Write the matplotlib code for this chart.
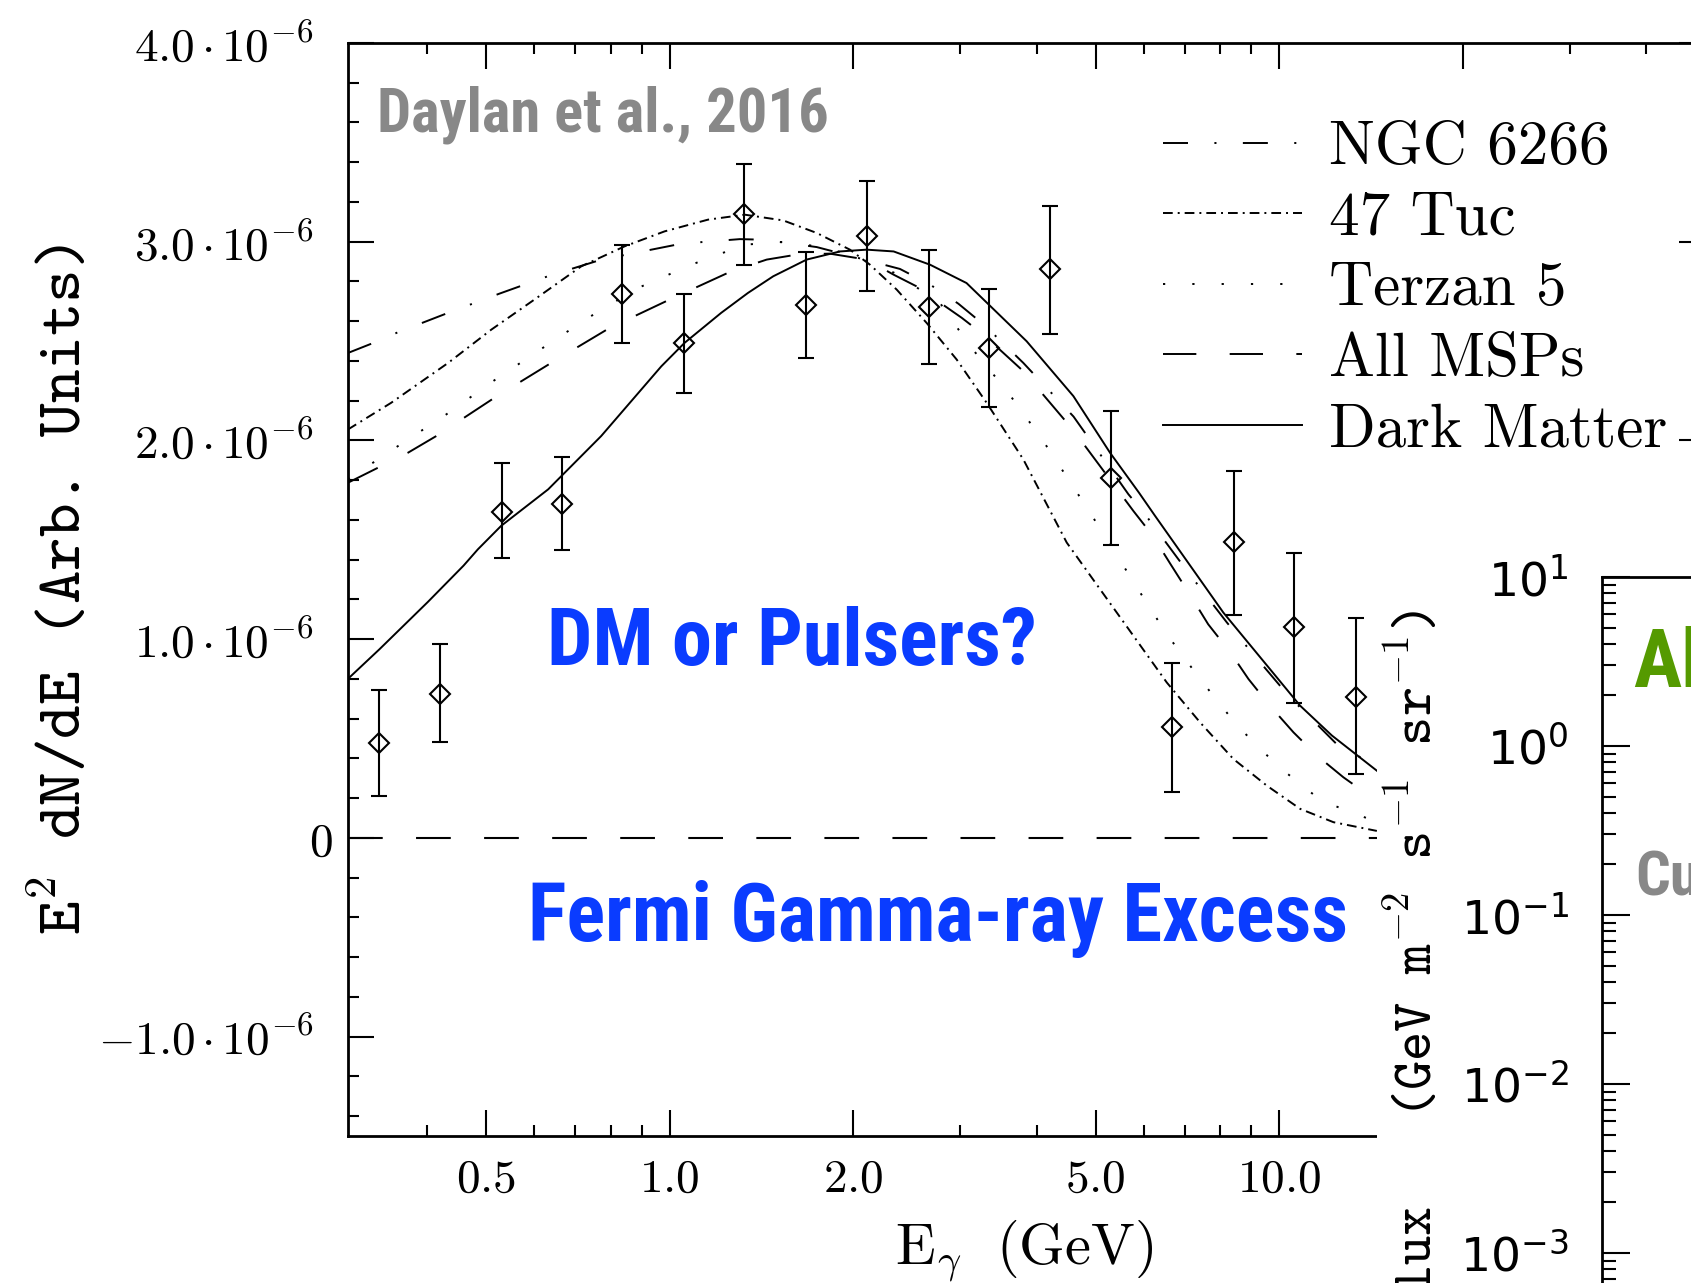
import numpy as np
import matplotlib
matplotlib.use("Agg")
import matplotlib.pyplot as plt
from matplotlib import font_manager
from matplotlib.patches import Rectangle
from matplotlib.ticker import FixedLocator
from matplotlib.transforms import ScaledTranslation

plt.rcParams['mathtext.fontset'] = 'cm'
plt.rcParams['lines.scale_dashes'] = False

# ----- Fermi GC excess data points (E^2 dN/dE, units of 1e-6) -----
e_data = [0.334, 0.420, 0.530, 0.665, 0.836, 1.054, 1.325, 1.671, 2.109,
          2.66, 3.34, 4.21, 5.30, 6.68, 8.43, 10.59, 13.35]
f_data = [0.477, 0.726, 1.642, 1.680, 2.737, 2.488, 3.138, 2.683, 3.030,
          2.672, 2.466, 2.862, 1.810, 0.558, 1.491, 1.062, 0.710]
f_lo = [0.211, 0.482, 1.409, 1.447, 2.488, 2.238, 2.883, 2.417, 2.753,
        2.385, 2.168, 2.537, 1.474, 0.233, 1.122, 0.678, 0.320]
f_hi = [0.743, 0.976, 1.886, 1.919, 2.981, 2.737, 3.393, 2.949, 3.306,
        2.959, 2.764, 3.182, 2.146, 0.878, 1.848, 1.436, 1.106]

# ----- model spectra -----
ngc_e = [0.2965, 0.326, 0.358, 0.433, 0.526, 0.635, 0.773, 1.045, 1.304, 1.424,
         1.743, 1.90, 2.387, 2.676, 2.977, 3.29, 3.805, 4.6, 5.66, 6.028,
         6.836, 7.235, 8.21, 8.74, 10.04, 10.56, 12.43, 13.75, 14.47]
ngc_f = [2.44, 2.49, 2.544, 2.642, 2.739, 2.829, 2.91, 2.99, 3.013, 3.01,
         2.973, 2.943, 2.863, 2.784, 2.688, 2.578, 2.39, 2.12, 1.729, 1.628,
         1.402, 1.302, 1.084, 0.983, 0.765, 0.690, 0.472, 0.397, 0.36]

tuc_e = [0.2965, 0.349, 0.433, 0.510, 0.600, 0.716, 0.844, 0.981, 1.156, 1.328,
         1.536, 1.743, 1.976, 2.132, 2.358, 2.641, 2.958, 3.313, 3.804, 4.483,
         5.085, 5.767, 6.542, 7.42, 8.414, 9.546, 10.83, 12.28, 14.47]
tuc_f = [2.055, 2.189, 2.390, 2.558, 2.709, 2.876, 2.977, 3.052, 3.111, 3.136,
         3.107, 3.044, 2.960, 2.884, 2.759, 2.591, 2.407, 2.189, 1.905, 1.486,
         1.251, 1.017, 0.782, 0.581, 0.397, 0.263, 0.146, 0.079, 0.035]

ter_e = [0.2965, 0.358, 0.430, 0.513, 0.616, 0.734, 0.887, 1.085, 1.328, 1.55,
         1.8, 2.05, 2.35, 2.777, 3.112, 3.57, 4.075, 4.597, 5.18, 5.80,
         6.542, 7.42, 8.54, 9.94, 11.73, 14.05, 14.47]
ter_f = [1.804, 1.971, 2.131, 2.298, 2.461, 2.616, 2.767, 2.884, 2.985, 3.0,
         2.97, 2.92, 2.84, 2.692, 2.474, 2.252, 2.01, 1.766, 1.519, 1.276,
         1.025, 0.799, 0.564, 0.363, 0.187, 0.095, 0.085]

msp_e = [0.2965, 0.372, 0.414, 0.516, 0.639, 0.797, 1.0, 1.262, 1.443, 1.616,
         1.83, 2.105, 2.331, 2.543, 3.015, 3.27, 3.8, 4.6, 5.767, 6.21,
         6.637, 7.16, 7.65, 8.32, 8.91, 9.66, 10.56, 11.54, 12.75, 14.05, 14.47]
msp_f = [1.787, 1.938, 2.022, 2.215, 2.390, 2.566, 2.709, 2.851, 2.910, 2.935,
         2.94, 2.91, 2.834, 2.775, 2.617, 2.533, 2.35, 2.05, 1.645, 1.519,
         1.377, 1.218, 1.075, 0.933, 0.799, 0.665, 0.531, 0.414, 0.305, 0.213, 0.19]

dm_e = [0.2965, 0.334, 0.401, 0.459, 0.4845, 0.529, 0.632, 0.772, 0.969, 1.058,
        1.215, 1.344, 1.479, 1.678, 1.903, 2.105, 2.331, 2.676, 3.07, 3.853,
        4.597, 5.28, 5.89, 6.257, 8.10, 10.83, 12.21, 14.47]
dm_f = [0.80, 0.949, 1.187, 1.37, 1.452, 1.57, 1.754, 2.022, 2.373, 2.491,
        2.642, 2.742, 2.826, 2.910, 2.951, 2.960, 2.951, 2.884, 2.792, 2.499,
        2.223, 1.938, 1.737, 1.621, 1.134, 0.665, 0.515, 0.338]

SCALE = 1e-6

ytick_vals = [-1.0, 0.0, 1.0, 2.0, 3.0, 4.0]
ytick_labels = [r'$-1.0\,{\cdot}\,10^{-6}$', r'$0$', r'$1.0\,{\cdot}\,10^{-6}$',
                r'$2.0\,{\cdot}\,10^{-6}$', r'$3.0\,{\cdot}\,10^{-6}$',
                r'$4.0\,{\cdot}\,10^{-6}$']
xtick_vals = [0.5, 1.0, 2.0, 5.0, 10.0, 20.0]
xtick_labels = [r'$0.5$', r'$1.0$', r'$2.0$', r'$5.0$', r'$10.0$', '']
xminor_vals = [0.4, 0.6, 0.7, 0.8, 0.9, 3, 4, 6, 7, 8, 9, 30, 40]

flux_ticks = [1e-3, 1e-2, 1e-1, 1e0, 1e1]
flux_labels = [r'$10^{-3}$', r'$10^{-2}$', r'$10^{-1}$', r'$10^{0}$', r'$10^{1}$']

# narrow bold face for the slide annotations
installed = {f.name for f in font_manager.fontManager.ttflist}
cond = 'Roboto'
for name in ['Roboto Condensed', 'Liberation Sans Narrow', 'Roboto']:
    if name in installed:
        cond = name
        break

# ----- figure -----
fig = plt.figure(figsize=(16.91, 12.83), dpi=100)
ax = fig.add_axes([0.206, 0.1146, 0.8023, 0.8519])
ax.set_zorder(1)

lw = 1.4
ax.plot(ngc_e, np.array(ngc_f) * SCALE, color='k', lw=lw, dashes=[18, 19, 1.5, 19],
        label='NGC 6266')
ax.plot(tuc_e, np.array(tuc_f) * SCALE, color='k', lw=lw, dashes=[7, 3.6, 1.4, 3.6],
        label='47 Tuc')
ax.plot(ter_e, np.array(ter_f) * SCALE, color='k', lw=lw, dashes=[1.6, 19.5],
        label='Terzan 5')
ax.plot(msp_e, np.array(msp_f) * SCALE, color='k', lw=lw, dashes=[24, 24],
        label='All MSPs')
ax.plot(dm_e, np.array(dm_f) * SCALE, color='k', lw=lw, label='Dark Matter')

ax.axhline(0, color='k', lw=1.5, dashes=[25, 24])

f = np.array(f_data)
yerr = [(f - np.array(f_lo)) * SCALE, (np.array(f_hi) - f) * SCALE]
ax.errorbar(e_data, f * SCALE, yerr=yerr, fmt='D', ms=10, mfc='none', mec='k',
            mew=1.5, color='k', ecolor='k', elinewidth=1.5, capsize=6, capthick=1.5)

ax.set_xscale('log')
ax.set_xlim(0.297, 50)
ax.set_ylim(-1.5e-6, 4.0e-6)

ax.xaxis.set_major_locator(FixedLocator(xtick_vals))
ax.xaxis.set_minor_locator(FixedLocator(xminor_vals))
ax.set_xticklabels(xtick_labels)
ax.xaxis.set_minor_formatter(plt.NullFormatter())
ax.set_yticks([v * SCALE for v in ytick_vals])
ax.set_yticklabels(ytick_labels)
ax.yaxis.set_minor_locator(FixedLocator([v * 0.2 * SCALE for v in range(-7, 20)]))

ax.tick_params(which='both', direction='in', top=True, right=True, labelsize=34)
ax.tick_params(which='major', length=19, width=1.5)
ax.tick_params(which='minor', length=8, width=1.5)
ax.tick_params(axis='y', pad=25)
ax.tick_params(axis='x', pad=15)
for s in ax.spines.values():
    s.set_linewidth(2)

# the lone "0" sits a little closer to the axis in the original
zero_lab = ax.get_yticklabels()[1]
zero_lab.set_transform(zero_lab.get_transform()
                       + ScaledTranslation(0.19, 0, fig.dpi_scale_trans))

ax.set_xlabel(r'$\mathrm{E}_{\gamma}\ \ (\mathrm{GeV})$', fontsize=42)
ax.xaxis.set_label_coords(0.498, -0.075)
ax.set_ylabel(r'E$^{\mathtt{2}}$ dN/dE (Arb. Units)', family='cmtt10', fontsize=46)
ax.yaxis.set_label_coords(-0.187, 0.5)

leg = ax.legend(loc='upper left', bbox_to_anchor=(0.6875, 0.906),
                bbox_transform=fig.transFigure, frameon=False,
                prop={'family': 'cmr10', 'size': 44}, handlelength=2.28,
                handletextpad=0.44, labelspacing=0.25, borderpad=0, borderaxespad=0)

# slide annotations, sized to the widths they take in the original
t_day = fig.text(0.223, 0.8974, 'Daylan et al., 2016', family=cond, weight='bold',
                 fontsize=46, color='#888888', va='baseline', zorder=5)
t_dm = fig.text(0.3235, 0.4817, 'DM or Pulsers?', family=cond, weight='bold',
                fontsize=55, color='#0a3cff', va='baseline', zorder=5)
t_fe = fig.text(0.3122, 0.2663, 'Fermi Gamma-ray Excess', family=cond, weight='bold',
                fontsize=57, color='#0a3cff', va='baseline', zorder=5)
fig.canvas.draw()
ratio = 1.0
for t, target in [(t_day, 451), (t_dm, 490), (t_fe, 820)]:
    w = t.get_window_extent().width
    t.set_fontsize(t.get_fontsize() * target / w)
    ratio = min(ratio, target / w * 1.08)

# white backing of the neighbouring panel
fig.add_artist(Rectangle((0.8143, 0), 1 - 0.8143, 0.6454, transform=fig.transFigure,
                         facecolor='white', edgecolor='none', zorder=2))

# ----- neighbouring flux panel (partly visible) -----
ax2 = fig.add_axes([0.9474, -0.1083, 0.1, 0.6586])
ax2.set_zorder(3)
ax2.set_yscale('log')
ax2.set_ylim(1e-4, 10)
ax2.set_xticks([])
ax2.yaxis.set_major_locator(FixedLocator(flux_ticks))
ax2.set_yticklabels(flux_labels)
for t in ax2.get_yticklabels():
    t.set_math_fontfamily('dejavusans')
ax2.tick_params(axis='y', which='both', direction='in', labelsize=34, pad=24)
ax2.tick_params(axis='y', which='major', length=20, width=1.5)
ax2.tick_params(axis='y', which='minor', length=10, width=1.5)
for s in ax2.spines.values():
    s.set_linewidth(2)

fig.text(0.8374, 0.5253,
         r'Flux   (GeV m$^{\mathtt{-2}}$ s$^{\mathtt{-1}}$ sr$^{\mathtt{-1}}$)',
         rotation=90, ha='center', va='top', family='cmtt10', fontsize=40, zorder=5)
fig.text(0.9657, 0.4648, 'Al', family=cond, weight='bold', fontsize=58 * ratio,
         color='#559a00', va='baseline', zorder=5)
fig.text(0.9669, 0.3024, 'Cu', family=cond, weight='bold', fontsize=44 * ratio,
         color='#888888', va='baseline', zorder=5)

fig.savefig('out.png', dpi=100)
